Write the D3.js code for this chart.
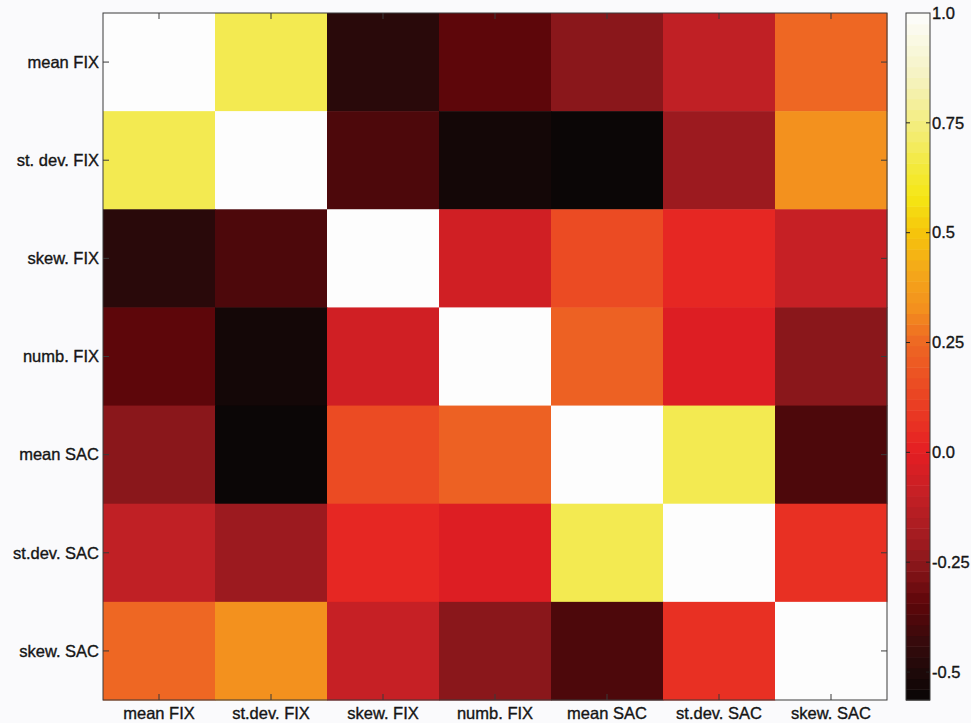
<!DOCTYPE html>
<html>
<head>
<meta charset="utf-8">
<script src="https://cdn.jsdelivr.net/npm/d3@7"></script>
<style>
  html, body { margin: 0; padding: 0; background: #fafafc; }
  svg { display: block; }
  text { font-family: "Liberation Sans", Arial, Helvetica, sans-serif; fill: #151515; stroke: #151515; stroke-width: 0.35px; }
</style>
</head>
<body>
<svg id="chart" width="971" height="723"></svg>
<script>
// ---- data ----
const rowLabels = ["mean FIX", "st. dev. FIX", "skew. FIX", "numb. FIX", "mean SAC", "st.dev. SAC", "skew. SAC"];
const colLabels = ["mean FIX", "st.dev. FIX", "skew. FIX", "numb. FIX", "mean SAC", "st.dev. SAC", "skew. SAC"];
const corrRow0 = [1.00, 0.68, -0.47, -0.345, -0.255, -0.11, 0.25];
const corrRow1 = [0.68, 1.00, -0.38, -0.53, -0.555, -0.21, 0.33];
const corrRow2 = [-0.47, -0.38, 1.00, -0.06, 0.15, 0.03, -0.09];
const corrRow3 = [-0.345, -0.53, -0.06, 1.00, 0.23, -0.02, -0.255];
const corrRow4 = [-0.255, -0.555, 0.15, 0.23, 1.00, 0.68, -0.38];
const corrRow5 = [-0.11, -0.21, 0.03, -0.02, 0.68, 1.00, 0.06];
const corrRow6 = [0.25, 0.33, -0.09, -0.255, -0.38, 0.06, 1.00];
const colorbarTicks = [1.0, 0.75, 0.5, 0.25, 0.0, -0.25, -0.5];
const colorbarTickLabels = ["1.0", "0.75", "0.5", "0.25", "0.0", "-0.25", "-0.5"];
const cMin = -0.5636, cMax = 1.0;

const matrix = [corrRow0, corrRow1, corrRow2, corrRow3, corrRow4, corrRow5, corrRow6];

// ---- colour map (print-like "hot") ----
const anchorVals = [-0.5636, -0.5, -0.43, -0.34, -0.25, -0.2, -0.1, 0.0, 0.05, 0.15, 0.25, 0.33, 0.42, 0.5, 0.58, 0.65, 0.72, 0.85, 1.0];
const anchorCols = ["#080505", "#1e0909", "#370a0c", "#5f060a", "#8c181c", "#a01b20", "#c32025", "#e41e23", "#e82d23", "#eb4b23", "#ee6723", "#f3911e", "#f4aa19", "#f6c40c", "#f5e614", "#f3e93c", "#f3ec6e", "#f5f2be", "#fdfdfd"];
const color = d3.scaleLinear().domain(anchorVals).range(anchorCols).interpolate(d3.interpolateRgb).clamp(true);

// ---- layout ----
const svg = d3.select("#chart");
const plot = { left: 103, top: 13, right: 887, bottom: 700 };
const x = d3.scaleBand().domain(d3.range(colLabels.length)).range([plot.left, plot.right]);
const y = d3.scaleBand().domain(d3.range(rowLabels.length)).range([plot.top, plot.bottom]);

// cells
const cells = [];
matrix.forEach((row, i) => row.forEach((v, j) => cells.push({ i, j, v })));
svg.append("g").selectAll("rect").data(cells).join("rect")
  .attr("x", d => x(d.j))
  .attr("y", d => y(d.i))
  .attr("width", x.bandwidth() + 0.5)
  .attr("height", y.bandwidth() + 0.5)
  .attr("fill", d => color(d.v));

// frame
const stroke = "#3a3a3a";
svg.append("rect")
  .attr("x", plot.left).attr("y", plot.top)
  .attr("width", plot.right - plot.left).attr("height", plot.bottom - plot.top)
  .attr("fill", "none").attr("stroke", stroke).attr("stroke-width", 1);

// ticks (inside, on all sides)
const tl = 6;
const tg = svg.append("g").attr("stroke", stroke).attr("stroke-width", 1);
d3.range(colLabels.length).forEach(j => {
  const cx = x(j) + x.bandwidth() / 2;
  tg.append("line").attr("x1", cx).attr("x2", cx).attr("y1", plot.top).attr("y2", plot.top + tl);
  tg.append("line").attr("x1", cx).attr("x2", cx).attr("y1", plot.bottom).attr("y2", plot.bottom - tl);
});
d3.range(rowLabels.length).forEach(i => {
  const cy = y(i) + y.bandwidth() / 2;
  tg.append("line").attr("x1", plot.left).attr("x2", plot.left + tl).attr("y1", cy).attr("y2", cy);
  tg.append("line").attr("x1", plot.right).attr("x2", plot.right - tl).attr("y1", cy).attr("y2", cy);
});

// labels
svg.append("g").selectAll("text").data(rowLabels).join("text")
  .attr("x", plot.left - 4)
  .attr("y", (d, i) => y(i) + y.bandwidth() / 2)
  .attr("dy", "0.35em")
  .attr("text-anchor", "end")
  .style("font-size", "16.5px")
  .text(d => d);
svg.append("g").selectAll("text").data(colLabels).join("text")
  .attr("x", (d, j) => x(j) + x.bandwidth() / 2)
  .attr("y", plot.bottom + 19)
  .attr("text-anchor", "middle")
  .style("font-size", "16.5px")
  .text(d => d);

// ---- colour bar ----
const cb = { left: 906, right: 930, top: 13, bottom: 700 };
const cy = d3.scaleLinear().domain([cMin, cMax]).range([cb.bottom, cb.top]);
const nBands = 64;
const bands = d3.range(nBands).map(k => {
  const v0 = cMin + (cMax - cMin) * k / nBands;
  const v1 = cMin + (cMax - cMin) * (k + 1) / nBands;
  return { v0, v1, vc: (v0 + v1) / 2 };
});
svg.append("g").selectAll("rect").data(bands).join("rect")
  .attr("x", cb.left)
  .attr("y", d => cy(d.v1))
  .attr("width", cb.right - cb.left)
  .attr("height", d => cy(d.v0) - cy(d.v1) + 0.5)
  .attr("fill", d => color(d.vc));
svg.append("rect")
  .attr("x", cb.left).attr("y", cb.top)
  .attr("width", cb.right - cb.left).attr("height", cb.bottom - cb.top)
  .attr("fill", "none").attr("stroke", stroke).attr("stroke-width", 1);
const ctg = svg.append("g").attr("stroke", "#222").attr("stroke-width", 1);
colorbarTicks.forEach(v => {
  if (v >= cMax) return;
  ctg.append("line").attr("x1", cb.left).attr("x2", cb.left + 4).attr("y1", cy(v)).attr("y2", cy(v));
  ctg.append("line").attr("x1", cb.right).attr("x2", cb.right - 4).attr("y1", cy(v)).attr("y2", cy(v));
});
svg.append("g").selectAll("text").data(colorbarTicks).join("text")
  .attr("x", cb.right + 2)
  .attr("y", d => cy(d))
  .attr("dy", "0.35em")
  .style("font-size", "16.5px")
  .text((d, k) => colorbarTickLabels[k]);
</script>
</body>
</html>
